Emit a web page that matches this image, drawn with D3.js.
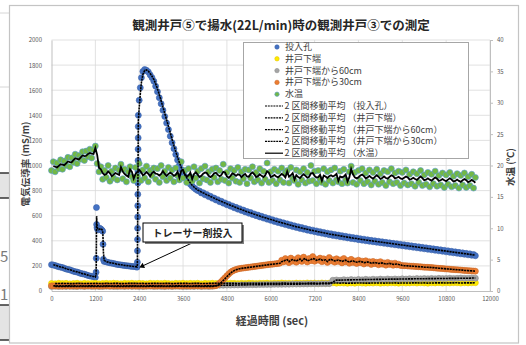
<!DOCTYPE html>
<html><head><meta charset="utf-8">
<script src="https://cdn.jsdelivr.net/npm/d3@7"></script>
<style>
html,body{margin:0;padding:0;background:#fff;}
svg{display:block;}
text{font-family:"Noto Sans CJK JP","Noto Sans",sans-serif;}
</style></head><body>
<svg id="chart" width="526" height="345"></svg>
<script>
// ---- data -------------------------------------------------------------
// logger sampling grids (sec)
const sampleTimes = d3.range(0, 11650, 50);      // 30cm probe and water temperature
const sampleTimes100 = d3.range(0, 11700, 100);  // well-bottom and 60cm probes

// 投入孔 (injection hole) conductivity, mS/m, as [sec, value]
const injData = [[0,210],[50,207],[100,203],[150,198],[200,193],[250,190],[300,187],[350,181],[400,175],[450,172],[500,169],[550,163],[600,157],[650,154],[700,151],[750,146],[800,140],[850,137],[900,134],[950,129],[1000,124],[1050,120],[1100,117],[1150,114],[1200,108],
[1220,150],[1225,260],[1230,665],[1235,530],[1245,505],[1260,492],[1290,488],[1320,500],[1350,494],[1380,485],[1400,476],[1410,372],[1420,252],[1440,236],
[1500,232],[1550,228],[1600,224],[1650,222],[1700,219],[1750,215],[1800,212],[1850,210],[1900,208],[1950,205],[2000,203],[2050,202],[2100,200],[2150,198],[2200,196],[2250,195],[2300,193],[2340,190],
[2350,230],[2352,320],[2354,410],[2356,500],[2358,590],[2360,680],[2362,770],[2364,860],[2366,950],[2368,1040],[2370,1130],[2372,1220],[2374,1310],[2376,1400],
[2400,1520],[2430,1620],[2460,1700],[2500,1750],[2550,1765],[2600,1758],[2650,1745],[2700,1722],[2750,1700],[2800,1672],[2850,1632],[2900,1588],[2950,1540],[3000,1492],[3050,1440],[3100,1390],[3150,1338],[3200,1286],[3250,1234],[3300,1182],[3350,1134],[3400,1088],[3450,1044],[3500,1002],[3550,968],[3600,938],[3650,914],[3700,892],[3750,870],[3800,850],[3850,835],[3900,822],[3950,810],[4000,800],
[4050,797],[4100,781],[4150,783],[4200,766],[4250,769],[4300,752],[4350,755],[4400,739],[4450,741],[4500,725],[4550,728],[4600,712],[4650,715],[4700,700],[4750,702],[4800,687],[4850,690],[4900,676],[4950,678],[5000,663],
[5050,667],[5100,652],[5150,656],[5200,641],[5250,645],[5300,630],[5350,634],[5400,620],[5450,625],[5500,610],[5550,614],[5600,600],[5650,605],[5700,590],[5750,595],[5800,581],[5850,586],[5900,572],[5950,577],[6000,563],
[6050,568],[6100,554],[6150,559],[6200,545],[6250,551],[6300,537],[6350,543],[6400,529],[6450,535],[6500,521],[6550,527],[6600,513],[6650,519],[6700,506],[6750,512],[6800,499],[6850,505],[6900,492],[6950,498],[7000,485],
[7050,491],[7100,478],[7150,485],[7200,472],[7250,479],[7300,466],[7350,473],[7400,460],[7450,467],[7500,454],[7550,461],[7600,448],[7650,456],[7700,443],[7750,451],[7800,438],[7850,446],[7900,433],[7950,441],[8000,428],
[8050,436],[8100,423],[8150,431],[8200,418],[8250,426],[8300,414],[8350,422],[8400,409],[8450,417],[8500,405],[8550,413],[8600,400],[8650,408],[8700,396],[8750,404],[8800,392],[8850,400],[8900,388],[8950,396],[9000,384],
[9050,392],[9100,380],[9150,388],[9200,376],[9250,384],[9300,372],[9350,380],[9400,368],[9450,376],[9500,364],[9550,372],[9600,360],[9650,368],[9700,356],[9750,364],[9800,352],[9850,360],[9900,348],[9950,356],[10000,344],
[10050,352],[10100,340],[10150,348],[10200,336],[10250,344],[10300,332],[10350,340],[10400,328],[10450,336],[10500,324],[10550,332],[10600,320],[10650,328],[10700,316],[10750,324],[10800,312],[10850,320],[10900,308],[10950,316],[11000,304],
[11050,312],[11100,300],[11150,308],[11200,296],[11250,304],[11300,292],[11350,300],[11400,288],[11450,296],[11500,284],[11550,291],[11600,281]];

// 井戸下端 (well bottom), mS/m — 100 s grid
const bottomV = [60,58,62,59,61,57,60,62,58,61,59,60,62,58,60,61,59,62,60,58,61,60,62,59,61,60,58,62,60,61,59,62,60,58,61,60,62,59,61,60,62,58,61,60,62,60,61,63,60,62,61,59,62,60,63,61,60,62,61,63,60,62,61,64,61,62,60,63,62,61,64,62,63,61,64,62,63,65,62,64,63,61,64,62,65,63,62,64,63,65,62,64,63,65,64,62,65,63,64,66,63,65,64,62,65,64,66,63,65,64,66,65,63,66,64,65,66];

// 井戸下端から60cm (60 cm above bottom), mS/m — 100 s grid
const up60V = [36,37,35,38,36,37,36,35,37,36,38,36,37,35,36,38,37,36,35,37,36,38,36,37,36,35,37,38,36,37,36,35,37,36,38,37,36,35,37,36,38,36,37,36,38,45,46,46,47,47,48,48,49,49,50,50,50,51,51,52,52,53,53,53,54,54,55,55,55,56,56,57,57,57,58,58,58,86,88,85,90,87,91,88,92,89,93,90,94,91,95,92,96,93,96,94,97,95,98,96,99,97,99,98,100,98,101,99,100,102,100,101,103,101,102,104,102];

// 井戸下端から30cm (30 cm above bottom), mS/m — 50 s grid
const up30V = [41,40,42,39,41,40,38,41,40,42, 39,40,41,40,39,41,42,40,39,40, 41,40,42,39,40,41,40,39,41,40, 42,40,39,41,40,40,42,39,41,40, 40,41,39,42,40,41,40,39,41,42, 40,39,41,40,42,40,41,39,40,41, 42,40,39,41,40,41,39,40,42,40, 41,39,40,41,42,40,39,41,40,42, 40,41,39,40,41,40,42,39,41,40,
42,50,62,76,91,106,121,136,149,159,166,171,176,179,181,183,185,187,189,191,193,195,197,199,201,203,205,207,209,211,213,214,216,218,220,222,245,
232,258,241,226,262,238,250,229,265,244, 236,270,248,231,259,242,274,237,253,245, 262,233,256,241,228,266,239,250,230,257, 236,248,224,259,232,243,221,252,228,240, 219,246,226,238,215,241,222,233,212,236, 218,229,209,234,214,224,206,228,212,220, 205,222,208,214,
204,203,201,202,199,199,197,198,195,195,193,193,191,190,189,189,187,187,185,184,182,181,180,179,177,176,175,174,172,171,170,169,168,167,165,164,163,162,161,160,159,158];

// 水温 (water temperature), °C — 50 s grid
const tempV = [19.2,20.6,19.0,20.4,19.5,20.9,19.4,20.7,20.0,21.3,19.8,21.2,20.5,21.8,20.3,21.6,21.0,22.2,20.8,22.3,21.4,22.6,21.2,22.5,23.1,
20.3,19.0,
19.8,17.8,19.2,18.1,20.0,17.5,19.1,18.0,19.6,17.7, 19.3,20.2,17.9,19.4,17.4,19.0,19.8,18.2,17.6,19.7,
18.3,20.3,17.6,19.3,18.0,19.9,17.4,19.2,18.4,19.6, 17.8,19.5,17.3,20.0,18.2,19.1,17.6,19.7,18.0,19.3,
17.4,19.6,18.4,17.7,20.6,18.0,19.2,17.3,19.5,18.2, 17.5,19.8,18.0,19.1,17.2,19.5,17.9,19.9,17.7,19.0,
17.3,19.4,18.1,19.6,17.4,19.2,17.8,20.2,17.6,18.9, 17.2,19.5,18.0,19.2,17.5,19.7,17.3,19.0,17.9,19.4,
17.1,19.3,18.0,19.8,17.4,18.9,17.7,19.5,17.2,19.1, 17.8,20.4,17.3,19.0,17.6,19.4,17.1,19.1,17.7,19.6,
17.3,18.9,19.2,17.2,19.7,17.9,17.6,19.3,17.0,19.0, 17.7,19.5,17.2,18.9,17.5,20.0,17.6,19.1,17.1,19.2,
17.8,17.3,19.5,17.0,19.0,17.6,19.3,17.2,19.6,17.7, 17.4,19.1,17.1,19.4,17.7,17.2,19.0,19.9,17.3,18.9,
17.0,19.2,17.6,19.5,17.1,18.8,17.4,19.3,16.9,18.9, 17.5,19.4,17.0,18.7,17.3,19.2,16.8,19.0,17.4,19.5,
17.1,18.8,17.3,19.1,16.8,18.9,17.2,19.3,16.9,18.6, 17.1,19.0,16.7,18.7,17.3,19.2,16.8,18.5,17.0,18.9,
16.6,18.6,17.1,19.1,16.7,18.4,16.9,18.8,16.5,18.5, 17.0,18.9,16.6,18.3,16.8,18.7,16.4,18.4,16.9,18.8,
16.5,18.2,16.8,18.6,16.4,18.1];

// axis tick values
const xTicks = [0,1200,2400,3600,4800,6000,7200,8400,9600,10800,12000];
const yLeftTicks = [0,200,400,600,800,1000,1200,1400,1600,1800,2000];
const yRightTicks = [0,5,10,15,20,25,30,35,40];

const seriesNames = ["投入孔","井戸下端","井戸下端から60cm","井戸下端から30cm","水温"];
const seriesColors = ["#4472C4","#FFEB00","#A5A5A5","#ED7D31","#72B844"];
const seriesStrokes = ["#3A62A8","#E8C800","#8C8C8C","#C9692A","#5B9BD5"];

// ---- layout ------------------------------------------------------------
const svg = d3.select("#chart");
const plot = {left: 51.5, right: 490, top: 40, bottom: 291};

const x = d3.scaleLinear().domain([0, 12000]).range([plot.left, plot.right]);
const yL = d3.scaleLinear().domain([0, 2000]).range([plot.bottom, plot.top]);
const yR = d3.scaleLinear().domain([0, 40]).range([plot.bottom, plot.top]);

// surrounding worksheet bits and chart frame
const side = svg.append("g");
side.append("line").attr("x1",0).attr("x2",9).attr("y1",13).attr("y2",13).attr("stroke","#d6d6d6");
side.append("line").attr("x1",0).attr("x2",9).attr("y1",87).attr("y2",87).attr("stroke","#d6d6d6");
side.append("rect").attr("x",0).attr("y",173).attr("width",9).attr("height",25).attr("fill","#e4e4e4");
side.append("line").attr("x1",0).attr("x2",9).attr("y1",173).attr("y2",173).attr("stroke","#333").attr("stroke-width",1.5);
side.append("line").attr("x1",0).attr("x2",9).attr("y1",198).attr("y2",198).attr("stroke","#333").attr("stroke-width",1.5);
side.append("rect").attr("x",0).attr("y",305).attr("width",9).attr("height",35).attr("fill","#e4e4e4");
side.append("line").attr("x1",0).attr("x2",9).attr("y1",305).attr("y2",305).attr("stroke","#333").attr("stroke-width",1.5);
side.append("line").attr("x1",0).attr("x2",9).attr("y1",340).attr("y2",340).attr("stroke","#333").attr("stroke-width",1.5);
side.append("text").attr("x",0).attr("y",262).attr("font-size",15).attr("fill","#7a7a7a").text("5");
side.append("text").attr("x",0).attr("y",300).attr("font-size",15).attr("fill","#7a7a7a").text("1");

svg.append("rect").attr("x",9.5).attr("y",5.5).attr("width",509).attr("height",337.5)
  .attr("fill","#fff").attr("stroke","#c4c4c4").attr("stroke-width",1.2);

// gridlines
const grid = svg.append("g").attr("stroke","#d9d9d9").attr("stroke-width",0.8);
grid.selectAll("line.h").data(yLeftTicks.slice(1)).join("line")
  .attr("x1",plot.left).attr("x2",plot.right).attr("y1",d=>yL(d)).attr("y2",d=>yL(d));
grid.selectAll("line.v").data(xTicks.slice(1)).join("line")
  .attr("y1",plot.top).attr("y2",plot.bottom).attr("x1",d=>x(d)).attr("x2",d=>x(d));

// axes
const plain = d3.format("d");
function styleAxis(g){
  g.selectAll(".domain").attr("stroke","#bfbfbf");
  g.selectAll(".tick line").attr("stroke","#bfbfbf");
  g.selectAll(".tick text").attr("fill","#595959").attr("font-size",6)
    .attr("font-family","'Liberation Sans',Arial,sans-serif");
}
svg.append("g").attr("transform",`translate(${plot.left},0)`)
  .call(d3.axisLeft(yL).tickValues(yLeftTicks).tickFormat(plain).tickSize(0).tickPadding(9.5).tickSizeOuter(0)).call(styleAxis);
svg.append("g").attr("transform",`translate(${plot.right},0)`)
  .call(d3.axisRight(yR).tickValues(yRightTicks).tickFormat(plain).tickSize(3).tickPadding(4).tickSizeOuter(0)).call(styleAxis);
svg.append("g").attr("transform",`translate(0,${plot.bottom})`)
  .call(d3.axisBottom(x).tickValues(xTicks).tickFormat(plain).tickSize(0).tickPadding(6).tickSizeOuter(0)).call(styleAxis);

// titles
svg.append("text").attr("x",281).attr("y",30).attr("text-anchor","middle")
  .attr("font-size",12.5).attr("font-weight",700).attr("fill","#262626")
  .text("観測井戸⑤で揚水(22L/min)時の観測井戸③での測定");
svg.append("text").attr("x",272).attr("y",325).attr("text-anchor","middle")
  .attr("font-size",11).attr("font-weight",700).attr("fill","#404040")
  .text("経過時間 (sec)");
svg.append("text").attr("transform","translate(29,164) rotate(-90)").attr("text-anchor","middle")
  .attr("font-size",9.5).attr("font-weight",700).attr("fill","#404040")
  .text("電気伝導率 (mS/m)");
svg.append("text").attr("transform","translate(514,167) rotate(-90)").attr("text-anchor","middle")
  .attr("font-size",9.5).attr("font-weight",700).attr("fill","#404040")
  .text("水温 (℃)");

// series tables
const toPts = (ts, vs) => ts.map((t,i)=>({t, v: vs[i]}));
const series = [
  {pts: injData.map(([t,v])=>({t, v})), y: yL},
  {pts: toPts(sampleTimes100, bottomV), y: yL},
  {pts: toPts(sampleTimes100, up60V), y: yL},
  {pts: toPts(sampleTimes, up30V), y: yL},
  {pts: toPts(sampleTimes, tempV), y: yR}
];

// scatter markers
series.forEach((s, k) => {
  svg.append("g").selectAll("circle").data(s.pts).join("circle")
    .attr("cx", d=>x(d.t)).attr("cy", d=>s.y(d.v)).attr("r", 3.0)
    .attr("fill", seriesColors[k]).attr("stroke", seriesStrokes[k]).attr("stroke-width", 0.6);
});

// 2-period moving-average trendlines
const movingAvg = pts => pts.slice(1).map((p,i)=>({t: p.t, v: (p.v + pts[i].v)/2}));
series.forEach((s, k) => {
  const line = d3.line().x(d=>x(d.t)).y(d=>s.y(d.v));
  svg.append("path").datum(movingAvg(s.pts)).attr("d", line)
    .attr("fill","none").attr("stroke","#000")
    .attr("stroke-width", k===4 ? 1.8 : 1.6)
    .attr("stroke-dasharray", k===4 ? null : "2.2,0.7");
});

// annotation: tracer injection
const ann = svg.append("g");
ann.append("line").attr("x1",192).attr("y1",243).attr("x2",x(2376)+3).attr("y2",yL(195))
  .attr("stroke","#000").attr("stroke-width",1);
ann.append("path").attr("d", d3.symbol(d3.symbolTriangle, 14)())
  .attr("transform",`translate(${x(2376)+4},${yL(195)-0.5}) rotate(-115)`).attr("fill","#000");
ann.append("rect").attr("x",145).attr("y",225).attr("width",99).attr("height",19).attr("fill","#7f7f7f");
ann.append("rect").attr("x",143).attr("y",223).attr("width",99).attr("height",19)
  .attr("fill","#fff").attr("stroke","#000").attr("stroke-width",1);
ann.append("text").attr("x",192.5).attr("y",236.5).attr("text-anchor","middle")
  .attr("font-size",10).attr("font-weight",700).attr("fill","#262626").text("トレーサー剤投入");

// legend
const lg = svg.append("g");
lg.append("rect").attr("x",243.5).attr("y",42.5).attr("width",225).attr("height",116)
  .attr("fill","#fff").attr("stroke","#a6a6a6").attr("stroke-width",1);
const rowY = i => 47 + i*11.8;
seriesNames.forEach((name, k) => {
  lg.append("circle").attr("cx",277).attr("cy",rowY(k)).attr("r",2.2)
    .attr("fill",seriesColors[k]).attr("stroke",seriesStrokes[k]).attr("stroke-width",0.6);
  lg.append("text").attr("x",285).attr("y",rowY(k)+3).attr("font-size",9).attr("fill","#404040").text(name);
});
seriesNames.forEach((name, k) => {
  const yy = rowY(k+5);
  lg.append("line").attr("x1",265).attr("x2",283).attr("y1",yy).attr("y2",yy)
    .attr("stroke","#000").attr("stroke-width",1.2).attr("stroke-dasharray", k===4 ? null : "2,0.8");
  lg.append("text").attr("x",284.5).attr("y",yy+3).attr("font-size",9).attr("fill","#404040")
    .style("white-space","pre").text(`2 区間移動平均 （${name}）`);
});
</script>
</body></html>
